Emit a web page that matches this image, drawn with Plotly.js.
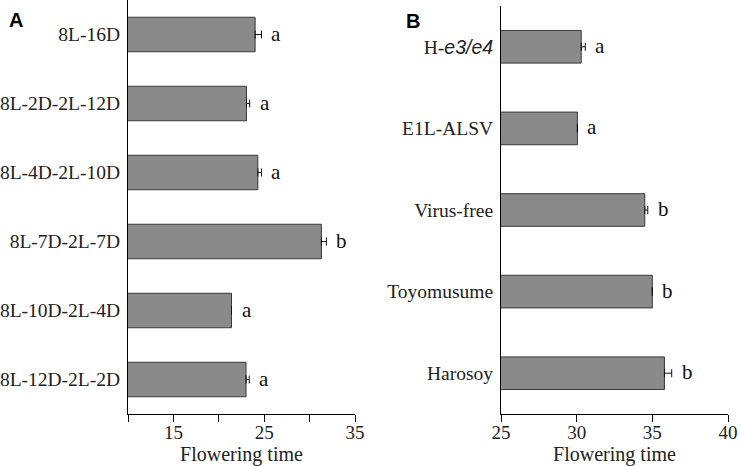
<!DOCTYPE html>
<html>
<head>
<meta charset="utf-8">
<script src="https://cdn.plot.ly/plotly-3.0.1.min.js"></script>
<style>html,body{margin:0;padding:0;background:#fff;}#chart{width:741px;height:466px;}</style>
</head>
<body>
<div id="chart"></div>
<script>
// Panel A
const catsA = ['8L-16D', '8L-2D-2L-12D', '8L-4D-2L-10D', '8L-7D-2L-7D', '8L-10D-2L-4D', '8L-12D-2L-2D'];
const valsA = [24.0, 23.05, 24.3, 31.3, 21.4, 23.0];
const errA = [0.7, 0.35, 0.4, 0.55, 0, 0.35];
const lettersA = ['a', 'a', 'a', 'b', 'a', 'a'];
const tickValsA = [10, 15, 20, 25, 30, 35];
const tickTextA = ['', '15', '', '25', '', '35'];

// Panel B
const catsB = ['H-<span style="font-family:\'Liberation Sans\';font-style:italic">e3/e4</span>', 'E1L-ALSV', 'Virus-free', 'Toyomusume', 'Harosoy'];
const valsB = [30.3, 30.05, 34.5, 35.0, 35.8];
const errB = [0.27, 0, 0.2, 0, 0.48];
const lettersB = ['a', 'a', 'b', 'b', 'b'];
const tickValsB = [25, 30, 35, 40];

const serif = 'Liberation Serif, Times New Roman, serif';
const barStyle = {color: '#8a8a8a', line: {color: '#3a3a3a', width: 1}};

function errObj(arr) {
  return {type: 'data', symmetric: false, array: arr, arrayminus: arr.map(() => 0),
          color: '#111', thickness: 1, width: 4};
}

const traces = [
  {type: 'bar', orientation: 'h', x: valsA, y: catsA, width: 0.5, marker: barStyle,
   error_x: errObj(errA), xaxis: 'x', yaxis: 'y', hoverinfo: 'none'},
  {type: 'bar', orientation: 'h', x: valsB, y: catsB, width: 0.4, marker: barStyle,
   error_x: errObj(errB), xaxis: 'x2', yaxis: 'y2', hoverinfo: 'none'}
];

const annotations = [];
catsA.forEach((c, i) => annotations.push({x: valsA[i] + errA[i], y: c, xref: 'x', yref: 'y',
  text: lettersA[i], showarrow: false, xanchor: 'left', xshift: 8, yshift: 1,
  font: {family: serif, size: 21, color: '#111'}}));
catsB.forEach((c, i) => annotations.push({x: valsB[i] + errB[i], y: c, xref: 'x2', yref: 'y2',
  text: lettersB[i], showarrow: false, xanchor: 'left', xshift: 8, yshift: 1,
  font: {family: serif, size: 21, color: '#111'}}));
annotations.push({x: 7 / 741, y: 1, xref: 'paper', yref: 'paper', yanchor: 'top', xanchor: 'left',
  yshift: -7, text: '<b>A</b>', showarrow: false, font: {family: 'Liberation Sans, Arial, sans-serif', size: 20, color: '#000'}});
annotations.push({x: 404 / 741, y: 1, xref: 'paper', yref: 'paper', yanchor: 'top', xanchor: 'left',
  yshift: -8, text: '<b>B</b>', showarrow: false, font: {family: 'Liberation Sans, Arial, sans-serif', size: 20, color: '#000'}});

const xCommon = {
  showgrid: false, zeroline: false, showline: true, linecolor: '#000', linewidth: 1,
  ticks: 'outside', ticklen: 7, tickcolor: '#000', tickwidth: 1, ticklabelstandoff: -6,
  tickfont: {family: serif, size: 19, color: '#222'},
  title: {text: 'Flowering time', font: {family: serif, size: 20, color: '#222'}, standoff: 5}
};
const yCommon = {
  type: 'category', autorange: 'reversed', showgrid: false, zeroline: false,
  showline: true, linecolor: '#000', linewidth: 1, ticks: '', ticklabelstandoff: 3,
  tickfont: {family: serif, size: 19.5, color: '#222'}
};

const layout = {
  width: 741, height: 466,
  margin: {l: 0, r: 0, t: 0, b: 52},
  paper_bgcolor: '#fff', plot_bgcolor: '#fff',
  showlegend: false,
  xaxis: Object.assign({}, xCommon, {domain: [128 / 741, 355 / 741], range: [10, 35],
    tickmode: 'array', tickvals: tickValsA, ticktext: tickTextA, anchor: 'y'}),
  yaxis: Object.assign({}, yCommon, {domain: [0, 1], anchor: 'x'}),
  xaxis2: Object.assign({}, xCommon, {domain: [501 / 741, 728 / 741], range: [25, 40],
    tickmode: 'array', tickvals: tickValsB, anchor: 'y2'}),
  yaxis2: Object.assign({}, yCommon, {domain: [0, 408 / 414], anchor: 'x2'}),
  annotations: annotations
};

Plotly.newPlot('chart', traces, layout, {displayModeBar: false, staticPlot: true});
</script>
</body>
</html>
